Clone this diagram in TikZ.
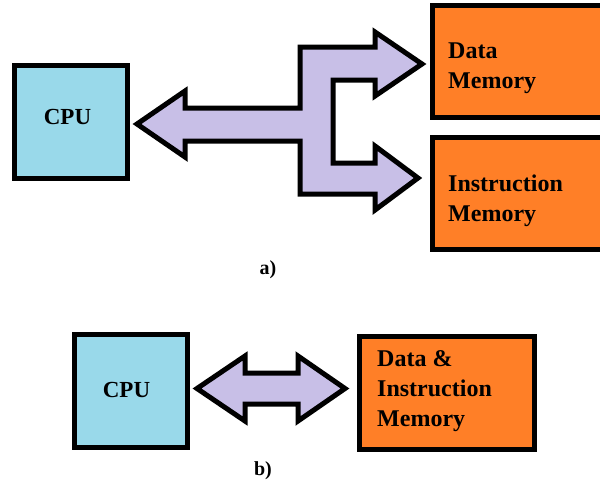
\documentclass[tikz,border=0pt]{standalone}
\usepackage{fontspec}
\setmainfont{Liberation Serif}
\definecolor{cpublue}{HTML}{99D9EA}
\definecolor{memorange}{HTML}{FF7F27}
\definecolor{buslav}{HTML}{C8BFE7}
\tikzset{
  box/.style={draw=black, line width=5pt, inner sep=0pt, outer sep=0pt},
  cpubox/.style={box, fill=cpublue, minimum width=113pt, minimum height=113pt},
  membox/.style={box, fill=memorange},
  bus/.style={draw=black, fill=buslav, line width=5pt, line join=miter},
  lbl/.style={font=\bfseries\fontsize{24}{30}\selectfont, inner sep=0pt, align=left},
  caption/.style={font=\bfseries\fontsize{20}{24}\selectfont, inner sep=0pt}
}
\begin{document}
\begin{tikzpicture}[x=1pt,y=-1pt]
\clip (0,0) rectangle (600,488);
\fill[white] (0,0) rectangle (600,488);

% ---- a) Harvard organisation ----
\node[cpubox] (cpuA) at (71,122) {};
\node[lbl, font=\bfseries\fontsize{23}{30}\selectfont] (cpuAtxt) at (67.5,116.5) {CPU};
\node[membox, minimum width=170.5pt, minimum height=112.5pt] (dmem) at (517.75,61.25) {};
\node[membox, minimum width=170.5pt, minimum height=112pt] (imem) at (517.75,193.5) {};
\node[lbl, anchor=north west] (dmemtxt) at (448,43) {Data\\Memory};
\node[lbl, anchor=north west] (imemtxt) at (448,175) {Instruction\\Memory};

% split bus from the CPU to both memories
\draw[bus] (137,124) -- (185,91) -- (185,108) -- (300,108) -- (300,47)
  -- (375,47) -- (375,32) -- (422,64) -- (375,96) -- (375,80)
  -- (333,80) -- (333,163) -- (375,163) -- (375,146) -- (418,178)
  -- (375,210) -- (375,194) -- (300,194) -- (300,141) -- (185,141)
  -- (185,157) -- cycle;

\node[caption] (capA) at (268,270) {a)};

% ---- b) von Neumann organisation ----
\node[cpubox] (cpuB) at (131,391) {};
\node[lbl, font=\bfseries\fontsize{23}{30}\selectfont] (cpuBtxt) at (126.5,390) {CPU};
\node[membox, minimum width=175pt, minimum height=113pt] (mem) at (447,393) {};
\node[lbl, anchor=north west] (memtxt) at (377,350) {Data \&\\Instruction\\Memory};

% single shared bus
\draw[bus] (197,388.5) -- (245,356) -- (245,373) -- (298,373) -- (298,356)
  -- (345,388.5) -- (298,421) -- (298,404) -- (245,404) -- (245,421) -- cycle;

\node[caption] (capB) at (263,471) {b)};
\end{tikzpicture}
\end{document}
